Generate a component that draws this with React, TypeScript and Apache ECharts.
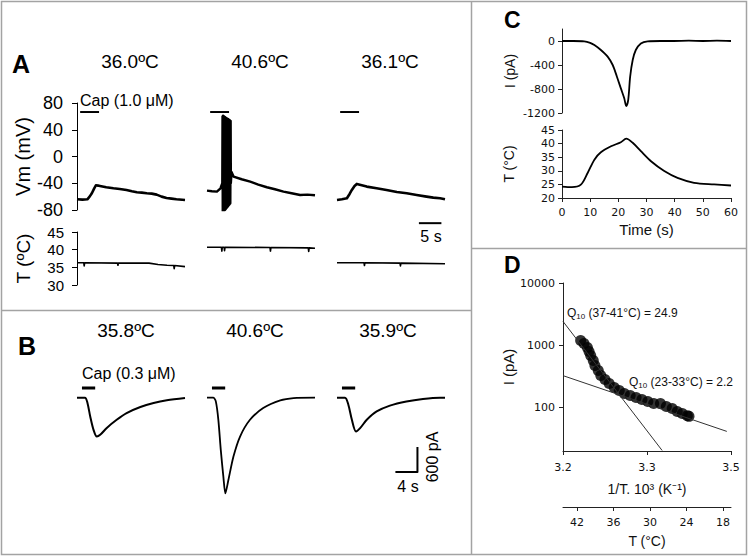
import React, { useEffect, useRef } from "react";
import * as echarts from "echarts";

const FONT = "Liberation Sans, Arial, sans-serif";
const NUMFONT = "DejaVu Sans, sans-serif";

// ---------- Panel A : membrane potential (mV) and temperature (°C) vs time (s)
const tempsA = ["36.0ºC", "40.6ºC", "36.1ºC"];
const capLabelA = "Cap (1.0 μM)";
const vmTicksA = [-80, -40, 0, 40, 80];
const tTicksA = [30, 35, 40, 45];
const capA: number[][] = [[0.7, 66.5], [4.9, 66.5]];
const vmA1: number[][] = [[0, -64], [1.2, -64.5], [2.3, -64], [2.8, -60], [3.3, -55], [3.8, -48], [4.2, -43], [4.7, -43.5], [5.1, -44], [6.5, -46], [8.1, -47.5], [9.5, -48.5], [11.0, -50], [12.2, -52], [13.3, -53.5], [14.4, -54], [15.5, -55], [16.6, -55.5], [17.7, -57], [18.8, -60], [19.9, -62], [21.0, -63], [22.1, -64], [24, -65]];
const vmA2Pre: number[][] = [[0, -51], [1.1, -52], [2.2, -52.5], [3.0, -47.5], [3.4, -40]];
const spikesA2: number[][] = [[3.45, 60], [3.50, -82], [3.57, 61], [3.62, -83], [3.69, 60], [3.74, -82], [3.81, 60], [3.86, -81], [3.93, 59], [3.98, -80], [4.05, 58], [4.10, -79], [4.17, 58], [4.22, -78], [4.29, 57], [4.34, -77], [4.41, 57], [4.46, -76], [4.53, 56], [4.58, -75], [4.65, 56], [4.70, -74], [4.77, 55], [4.82, -73], [4.89, 55], [4.94, -72], [5.01, 54], [5.06, -71], [5.13, 54], [5.18, -70], [5.25, 53], [5.30, -40]];
const vmA2Post: number[][] = [[5.45, -23], [5.9, -30], [7.7, -34], [9.6, -37.5], [11.4, -42], [13.3, -46], [15.1, -49], [17.0, -52.5], [18.8, -55], [20.7, -57.5], [22.3, -57], [24, -58]];
const vmA3: number[][] = [[0, -65], [1.1, -64], [2.2, -62.5], [2.8, -56], [3.3, -50], [3.9, -44], [4.4, -41], [5.5, -43], [6.6, -45], [8.8, -47.5], [11.0, -50], [13.3, -53], [15.5, -55], [17.7, -57.5], [19.9, -60], [21.4, -61.5], [22.9, -62.5], [24, -64]];
const tA1: number[][] = [[0, 36.3], [1.5, 36.3], [1.6, 35.4], [1.7, 36.3], [9, 36.2], [9.1, 35.6], [9.2, 36.2], [16, 36.2], [18, 35.8], [20, 35.6], [21.5, 35.5], [21.6, 34.6], [21.7, 35.5], [24, 35.2]];
const tA2: number[][] = [[0, 40.7], [3.2, 40.7], [3.3, 39.6], [3.4, 40.7], [3.8, 40.7], [3.9, 39.7], [4.0, 40.7], [14, 40.6], [14.1, 39.6], [14.2, 40.6], [22.5, 40.5], [22.6, 39.5], [22.7, 40.5], [24, 40.4]];
const tA3: number[][] = [[0, 36.3], [6, 36.3], [6.1, 35.5], [6.2, 36.3], [14, 36.2], [14.1, 35.4], [14.2, 36.2], [24, 36.0]];
const scaleBarA: number[][] = [[18.2, 47.5], [23.2, 47.5]]; // 5 s
const scaleLabelA = "5 s";

// ---------- Panel B : current (pA) vs time (s)
const tempsB = ["35.8ºC", "40.6ºC", "35.9ºC"];
const capLabelB = "Cap (0.3 μM)";
const capB: number[][] = [[0.9, 230], [3.3, 230]];
const iB1: number[][] = [[0, 0], [1.45, 0], [1.9, -128], [2.4, -450], [3.0, -770], [3.6, -930], [4.2, -890], [5.4, -725], [7.2, -530], [9.0, -370], [11.5, -225], [13.9, -130], [16.3, -65], [19.6, -10]];
const iB2: number[][] = [[0, 0], [1.15, 0], [1.6, -90], [2.06, -530], [2.5, -1250], [2.97, -1890], [3.33, -2290], [3.88, -1970], [4.8, -1410], [6.0, -930], [7.8, -530], [10.2, -250], [13.3, -65], [15.7, -10], [19.6, 0]];
const iB3: number[][] = [[0, 0], [1.45, 0], [2.06, -170], [2.7, -530], [3.45, -810], [4.2, -730], [5.4, -530], [7.2, -330], [9.6, -190], [12.6, -90], [15.6, -30], [18.7, 0], [19.6, 0]];
const scaleBarB: number[][] = [[10.6, -1780], [14.6, -1780], [14.6, -1180]]; // 4 s, 600 pA
const scaleLabelBx = "4 s";
const scaleLabelBy = "600 pA";

// ---------- Panel C : current and temperature vs time (s)
const iC: number[][] = [[0, 0], [4, 0], [7.9, -5], [10, -30], [11.5, -67], [13.8, -150], [16.2, -260], [18, -400], [19.5, -595], [20.9, -790], [22.1, -955], [22.8, -1085], [23.5, -985], [24.2, -595], [25.1, -317], [26.2, -150], [28, -40], [30.4, -5], [35, 0], [39.7, 0], [45, 5], [50, 0], [55, 5], [60, 0]];
const tC: number[][] = [[0, 24.2], [3.5, 24], [6.7, 24.9], [9.1, 29.2], [11.5, 34.1], [13.8, 36.8], [17.4, 39], [20.9, 40.5], [22.8, 41.8], [25.1, 40.3], [28, 37.2], [31.6, 33.5], [36.3, 29.9], [41, 27.4], [46.9, 25.6], [54, 25], [60, 24.6]];
const cITicks = [0, -400, -800, -1200];
const cTTicks = [20, 25, 30, 35, 40, 45];
const cTimeTicks = [0, 10, 20, 30, 40, 50, 60];

// ---------- Panel D : Arrhenius plot
const dInvT = [3.221, 3.225, 3.229, 3.231, 3.233, 3.236, 3.238, 3.242, 3.245, 3.25, 3.255, 3.261, 3.267, 3.273, 3.28, 3.287, 3.294, 3.301, 3.308, 3.316, 3.323, 3.33, 3.336, 3.342, 3.348, 3.35];
const dCurrent = [1194, 1069, 922, 795, 685, 570, 473, 393, 327, 282, 243, 210, 188, 168, 156, 145, 134, 125, 116, 116, 104, 96, 86, 80, 74, 72];
const fitSteep: number[][] = [[3.2, 2415], [3.318, 20.4]];
const fitShallow: number[][] = [[3.2, 325], [3.395, 41.3]];
const dXTickValues = [3.2, 3.3, 3.4];
const dXTickLabels = ["3.2", "3.3", "3.5"];
const dYTicks = [100, 1000, 10000];
const dTTicks = [42, 36, 30, 24, 18];
const q10High = ["Q", "10", " (37-41°C) = 24.9"];
const q10Low = ["Q", "10", " (23-33°C) = 2.2"];

const log = (v: number) => Math.log10(v);

function buildOption(): any {
  const leftsABC = [77, 207, 337];
  const grid: any[] = [
    ...leftsABC.map((l) => ({ left: l, top: 103, width: 108, height: 107 })),
    ...leftsABC.map((l) => ({ left: l, top: 232, width: 108, height: 53 })),
    ...leftsABC.map((l) => ({ left: l, top: 383, width: 108, height: 115 })),
    { left: 562, top: 29, width: 169, height: 84 },
    { left: 562, top: 130, width: 169, height: 68 },
    { left: 563, top: 283, width: 168, height: 168 },
  ];

  const blackLine = { show: true, onZero: false, lineStyle: { color: "#000", width: 1 } };
  const darkLine = { show: true, onZero: false, lineStyle: { color: "#222", width: 1 } };
  const noSplit = { show: false };
  const force = { showMinLabel: true, showMaxLabel: true, hideOverlap: false };
  const numLabel = { fontFamily: NUMFONT, fontSize: 11, color: "#111", ...force };
  const tick = (vals: number[], len: number, color: string) => ({ show: true, length: len, customValues: vals, lineStyle: { color } });

  const xAxis: any[] = [];
  for (let i = 0; i < 6; i++) xAxis.push({ type: "value", gridIndex: i, min: 0, max: 24, show: false });
  for (let i = 6; i < 9; i++) xAxis.push({ type: "value", gridIndex: i, min: 0, max: 19.6, show: false });
  xAxis.push({ type: "value", gridIndex: 9, min: 0, max: 60, show: false });
  xAxis.push({
    type: "value", gridIndex: 10, min: 0, max: 60,
    axisLine: darkLine, axisTick: tick(cTimeTicks, 4, "#222"),
    axisLabel: { ...numLabel, margin: 9, customValues: cTimeTicks }, splitLine: noSplit,
    name: "Time (s)", nameLocation: "middle", nameGap: 24,
    nameTextStyle: { fontFamily: FONT, fontSize: 15, color: "#111" },
  });
  xAxis.push({
    type: "value", gridIndex: 11, min: 3.2, max: 3.4,
    axisLine: darkLine,
    axisTick: tick(dXTickValues, 4, "#222"),
    axisLabel: {
      ...numLabel, margin: 11, customValues: dXTickValues,
      formatter: (v: number) => dXTickLabels[Math.round((v - 3.2) * 10)] ?? "",
    },
    splitLine: noSplit,
    name: "1/T. 10³ (K⁻¹)", nameLocation: "middle", nameGap: 31,
    nameTextStyle: { fontFamily: FONT, fontSize: 14, color: "#111" },
  });
  xAxis.push({
    type: "value", gridIndex: 11, position: "bottom", offset: 56, inverse: true, min: 16.7, max: 44.3,
    axisLine: darkLine,
    axisTick: tick(dTTicks, 4, "#222"),
    axisLabel: { ...numLabel, margin: 10, customValues: dTTicks },
    splitLine: noSplit,
    name: "T (°C)", nameLocation: "middle", nameGap: 27,
    nameTextStyle: { fontFamily: FONT, fontSize: 14, color: "#111" },
  });

  const aLabel = { fontFamily: FONT, fontSize: 18, color: "#000", margin: 14, ...force };
  const aTLabel = { ...aLabel, fontSize: 15, lineHeight: 15, margin: 13 };
  const aName = { fontFamily: FONT, fontSize: 20, color: "#000" };
  // the four T labels of panel A sit close together, so they are split
  // over two overlaid axes of the same grid (every other label on each)
  const tTicksAOdd = tTicksA.filter((_, i) => i % 2 === 0);
  const tTicksAEven = tTicksA.filter((_, i) => i % 2 === 1);
  const yAxis: any[] = [
    {
      type: "value", gridIndex: 0, min: -80, max: 80,
      axisLine: blackLine, axisTick: tick(vmTicksA, 5, "#000"),
      axisLabel: { ...aLabel, customValues: vmTicksA }, splitLine: noSplit,
      name: "Vm (mV)", nameLocation: "middle", nameGap: 44, nameTextStyle: aName,
    },
    { type: "value", gridIndex: 1, min: -80, max: 80, show: false },
    { type: "value", gridIndex: 2, min: -80, max: 80, show: false },
    {
      type: "value", gridIndex: 3, position: "left", min: 30, max: 45,
      axisLine: blackLine, axisTick: tick(tTicksAOdd, 5, "#000"),
      axisLabel: { ...aTLabel, customValues: tTicksAOdd }, splitLine: noSplit,
      name: "T (ºC)", nameLocation: "middle", nameGap: 44, nameTextStyle: { ...aName, fontSize: 19 },
    },
    { type: "value", gridIndex: 4, min: 30, max: 45, show: false },
    { type: "value", gridIndex: 5, min: 30, max: 45, show: false },
    { type: "value", gridIndex: 6, min: -2400, max: 350, show: false },
    { type: "value", gridIndex: 7, min: -2400, max: 350, show: false },
    { type: "value", gridIndex: 8, min: -2400, max: 350, show: false },
    {
      type: "value", gridIndex: 9, min: -1200, max: 200,
      axisLine: darkLine,
      axisTick: tick(cITicks, 4, "#222"),
      axisLabel: { ...numLabel, margin: 7, customValues: cITicks, formatter: (v: number) => String(v) },
      splitLine: noSplit,
      name: "I (pA)", nameLocation: "middle", nameGap: 45,
      nameTextStyle: { fontFamily: FONT, fontSize: 14, color: "#111" },
    },
    {
      type: "value", gridIndex: 10, min: 20, max: 45,
      axisLine: darkLine, axisTick: tick(cTTicks, 4, "#222"),
      axisLabel: { ...numLabel, margin: 7, customValues: cTTicks }, splitLine: noSplit,
      name: "T (°C)", nameLocation: "middle", nameGap: 46,
      nameTextStyle: { fontFamily: FONT, fontSize: 14, color: "#111" },
    },
    {
      type: "value", gridIndex: 11, min: log(20), max: 4,
      axisLine: darkLine,
      axisTick: tick(dYTicks.map(log), 4, "#222"),
      axisLabel: {
        ...numLabel, margin: 8, customValues: dYTicks.map(log),
        formatter: (v: number) => String(Math.round(Math.pow(10, v))),
      },
      splitLine: noSplit,
      name: "I (pA)", nameLocation: "middle", nameGap: 47,
      nameTextStyle: { fontFamily: FONT, fontSize: 15, color: "#111" },
    },
    {
      type: "value", gridIndex: 3, position: "left", min: 30, max: 45,
      axisLine: { show: false }, axisTick: tick(tTicksAEven, 5, "#000"),
      axisLabel: { ...aTLabel, customValues: tTicksAEven }, splitLine: noSplit,
    },
  ];

  const line = (xi: number, yi: number, data: number[][], width: number, extra: any = {}) => ({
    type: "line", xAxisIndex: xi, yAxisIndex: yi, data, symbol: "none", showSymbol: false,
    silent: true, lineStyle: { color: "#000", width, join: "round" }, ...extra,
  });

  const series: any[] = [
    line(0, 0, vmA1, 2.6),
    line(1, 1, [...vmA2Pre, ...spikesA2, ...vmA2Post], 2.4),
    line(2, 2, vmA3, 2.6),
    line(0, 0, capA, 2),
    line(1, 1, capA, 2),
    line(2, 2, capA, 2),
    line(3, 3, tA1, 1.6),
    line(4, 4, tA2, 1.6),
    line(5, 5, tA3, 1.6),
    line(5, 5, scaleBarA, 2, { clip: false }),
    line(6, 6, iB1, 2, { smooth: 0.3 }),
    line(7, 7, iB2, 1.8, { smooth: 0.25 }),
    line(8, 8, iB3, 2, { smooth: 0.3 }),
    line(6, 6, capB, 3),
    line(7, 7, capB, 3),
    line(8, 8, capB, 3),
    line(8, 8, scaleBarB, 2),
    line(9, 9, iC, 1.8, { smooth: 0.3 }),
    line(10, 10, tC, 1.8, { smooth: 0.3 }),
    line(11, 11, fitSteep.map(([x, y]) => [x, log(y)]), 1, { lineStyle: { color: "#333", width: 1 } }),
    line(11, 11, fitShallow.map(([x, y]) => [x, log(y)]), 1, { lineStyle: { color: "#333", width: 1 } }),
    {
      type: "scatter", xAxisIndex: 11, yAxisIndex: 11, silent: true,
      data: dInvT.map((x, i) => [x, log(dCurrent[i])]),
      symbol: "circle", symbolSize: 11, itemStyle: { color: "#000" },
    },
  ];

  const txt = (x: number, y: number, text: string, fontSize: number, extra: any = {}, style: any = {}) => ({
    type: "text", x, y, silent: true, ...extra,
    style: { text, fontSize, fontFamily: FONT, fill: "#000", align: "left", verticalAlign: "middle", ...style },
  });

  const frame = "#a3a3a3";
  const graphic: any[] = [
    { type: "rect", silent: true, shape: { x: 1.5, y: 1.5, width: 745, height: 553 }, style: { fill: "none", stroke: frame, lineWidth: 1.5 } },
    { type: "line", silent: true, shape: { x1: 471.5, y1: 1, x2: 471.5, y2: 555 }, style: { stroke: frame, lineWidth: 1.5 } },
    { type: "line", silent: true, shape: { x1: 1, y1: 310.5, x2: 471, y2: 310.5 }, style: { stroke: frame, lineWidth: 1.5 } },
    { type: "line", silent: true, shape: { x1: 471, y1: 248.5, x2: 747, y2: 248.5 }, style: { stroke: frame, lineWidth: 1.5 } },
    txt(12, 64, "A", 25, {}, { fontWeight: "bold" }),
    txt(18, 346, "B", 25, {}, { fontWeight: "bold" }),
    txt(504, 20, "C", 23, {}, { fontWeight: "bold" }),
    txt(504, 265, "D", 23, {}, { fontWeight: "bold" }),
    ...tempsA.map((t, i) => txt([130, 260, 390][i], 61, t, 19, {}, { align: "center" })),
    ...tempsB.map((t, i) => txt([126, 255, 388][i], 330, t, 19, {}, { align: "center" })),
    txt(80, 100, capLabelA, 16),
    txt(82, 373, capLabelB, 16),
    txt(431, 236, scaleLabelA, 16, {}, { align: "center" }),
    txt(408, 486, scaleLabelBx, 16, {}, { align: "center" }),
    txt(432, 457, scaleLabelBy, 16, { rotation: Math.PI / 2 }, { align: "center" }),
    txt(567, 313, q10High[0], 12, {}, { fill: "#111" }),
    txt(576.3, 316, q10High[1], 8, {}, { fill: "#111" }),
    txt(585.2, 313, q10High[2], 12, {}, { fill: "#111" }),
    txt(629, 382, q10Low[0], 12, {}, { fill: "#111" }),
    txt(638.3, 385, q10Low[1], 8, {}, { fill: "#111" }),
    txt(647.2, 382, q10Low[2], 12, {}, { fill: "#111" }),
  ];

  return {
    animation: false,
    backgroundColor: "#fff",
    textStyle: { fontFamily: FONT },
    grid, xAxis, yAxis, series, graphic,
  };
}

export default function App() {
  const ref = useRef<HTMLDivElement>(null);
  useEffect(() => {
    if (!ref.current) return;
    const chart = echarts.init(ref.current, undefined, { renderer: "svg" });
    chart.setOption(buildOption());
    return () => chart.dispose();
  }, []);
  return (
    <div
      ref={ref}
      style={{ position: "fixed", left: 0, top: 0, width: 749, height: 557, background: "#fff" }}
    />
  );
}
